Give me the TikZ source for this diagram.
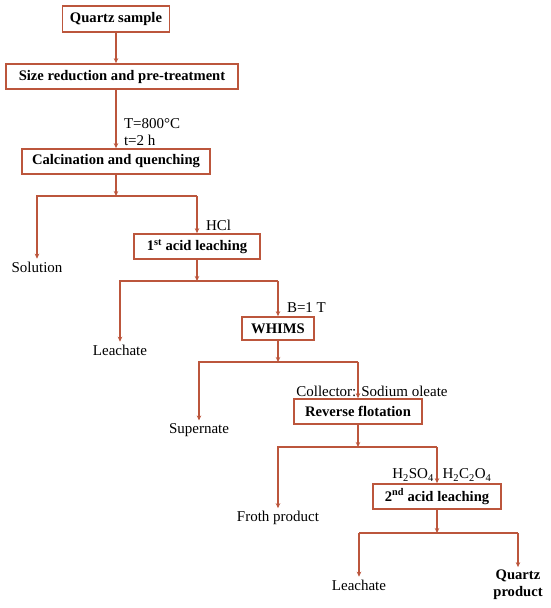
\documentclass[tikz,border=0pt]{standalone}
\usepackage{fontspec}
\setmainfont{Liberation Serif}
\usetikzlibrary{arrows.meta}
\definecolor{flow}{RGB}{188,86,60}
\begin{document}
\begin{tikzpicture}[x=1pt,y=-1pt,
  box/.style={draw=flow,line width=1.7pt,font=\bfseries\fontsize{14.6}{17}\selectfont,inner sep=0pt,minimum height=25pt},
  lbl/.style={font=\fontsize{15}{17}\selectfont,inner sep=0pt,outer sep=3pt},
  ln/.style={draw=flow,line width=1.8pt},
  arr/.style={draw=flow,line width=1.8pt,-{Stealth[length=5pt,width=4.5pt]}}]
\useasboundingbox (0,0) rectangle (550,608);
% boxes
\node[box,minimum width=107pt,minimum height=26pt] (qs) at (116,19) {Quartz sample};
\node[box,minimum width=232pt] (sr) at (122,76.5) {Size reduction and pre-treatment};
\node[box,minimum width=188pt] (cq) at (116,161.5) {Calcination and quenching};
\node[box,minimum width=126pt] (al1) at (197,246.5) {1\textsuperscript{st} acid leaching};
\node[box,minimum width=72pt,minimum height=23pt] (wh) at (278,328.5) {WHIMS};
\node[box,minimum width=128pt] (rf) at (358,411.5) {Reverse flotation};
\node[box,minimum width=128pt] (al2) at (437,496.5) {2\textsuperscript{nd} acid leaching};
% labels
\node[lbl,anchor=west,align=left] (cond) at (121,132) {T=800°C\\t=2 h};
\node[lbl,anchor=west] (hcl) at (203,225) {HCl};
\node[lbl,anchor=west] (bf) at (284,308) {B=1 T};
\node[lbl] (coll) at (372,391) {Collector: Sodium oleate};
\node[lbl] (h2so4) at (413,475) {H\textsubscript{2}SO\textsubscript{4}};
\node[lbl] (h2c2o4) at (467,475) {H\textsubscript{2}C\textsubscript{2}O\textsubscript{4}};
\node[lbl] (sol) at (37,267) {Solution};
\node[lbl] (lea1) at (120,350) {Leachate};
\node[lbl] (sup) at (199,430) {Supernate};
\node[lbl] (fro) at (278,518) {Froth product};
\node[lbl] (lea2) at (359,585) {Leachate};
\node[lbl,font=\bfseries\fontsize{14.6}{17}\selectfont,align=center] (qp) at (518,585) {Quartz\\product};
% junction coordinates
\coordinate (b1) at (197,196);
\coordinate (b2) at (278,281);
\coordinate (b3) at (358,362);
\coordinate (b4) at (437,447);
\coordinate (b5l) at (359,533);
\coordinate (b5r) at (518,533);
% connectors
\draw[arr] (qs.south) -- (qs.south |- sr.north);
\draw[arr] (qs.south |- sr.south) -- (cq.north);
\draw[arr] (cq.south) -- (cq.south |- b1);
\draw[arr] (b1) -| (sol.north);
\draw[arr] (b1) -- (al1.north);
\draw[arr] (al1.south) -- (al1.south |- b2);
\draw[arr] (b2) -| (lea1.north);
\draw[arr] (b2) -- (wh.north);
\draw[arr] (wh.south) -- (wh.south |- b3);
\draw[arr] (b3) -| (sup.north);
\draw[arr] (b3) -- (rf.north);
\draw[arr] (rf.south) -- (rf.south |- b4);
\draw[arr] (b4) -| (fro.north);
\draw[arr] (b4) -- (al2.north);
\draw[arr] (al2.south) -- (al2.south |- b5l);
\draw[ln] (b5l) -- (b5r);
\draw[arr] (b5l) -- (lea2.north);
\draw[arr] (b5r) -- (qp.north);
\end{tikzpicture}
\end{document}
